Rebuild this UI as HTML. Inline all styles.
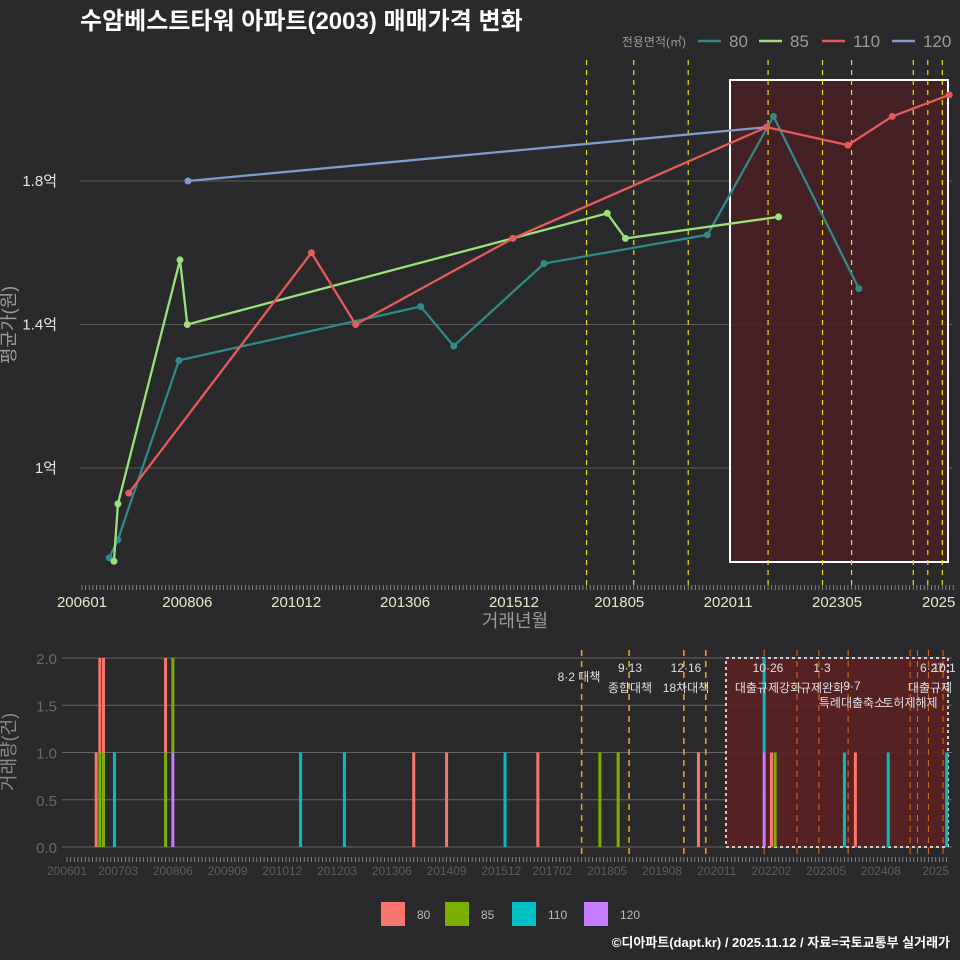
<!DOCTYPE html>
<html><head><meta charset="utf-8">
<style>
html,body{margin:0;padding:0;background:#2a292b;}
svg{display:block;font-family:"Liberation Sans","Noto Sans CJK KR",sans-serif;}
</style></head>
<body>
<svg id="c" width="960" height="960" viewBox="0 0 960 960">
<rect x="0" y="0" width="960" height="960" fill="#2a292b"/>
<text x="80" y="29" font-size="24" font-weight="bold" fill="#ffffff">수암베스트타워 아파트(2003) 매매가격 변화</text>
<g id="top"></g>
<g id="bot"></g>
<text x="950" y="947" font-size="13" font-weight="bold" fill="#ffffff" text-anchor="end">©디아파트(dapt.kr) / 2025.11.12 / 자료=국토교통부 실거래가</text>
</svg>
<script>
// ---- data ----
const seriesNames = ["80","85","110","120"];
const lineColors = ["#2f8a88","#9be07a","#e55a5a","#7f9ccb"];
const barColors = ["#f8766d","#7cae00","#00bfc4","#c77cff"];
// price points: months since 2006-01, value in 억
const s80Months = [7.5,9.9,26.7,93.3,102.4,127.3,172.3,190.5,214];
const s80Values = [0.75,0.80,1.30,1.45,1.34,1.57,1.65,1.98,1.50];
const s85Months = [8.8,9.9,27,29,144.7,149.7,191.9];
const s85Values = [0.74,0.90,1.58,1.40,1.71,1.64,1.70];
const s110Months = [12.9,63.2,75.4,118.7,188.6,211,223.2,238.9];
const s110Values = [0.93,1.60,1.40,1.64,1.95,1.90,1.98,2.04];
const s120Months = [29.2,188.6];
const s120Values = [1.80,1.95];
const topTickLabels = ["200601","200806","201012","201306","201512","201805","202011","202305","2025"];
const topTickMonths = [0,29,59,89,119,148,178,208,236];
const yTicks = [1.0,1.4,1.8];
const yTickLabels = ["1억","1.4억","1.8억"];
const policyMonthsTop = [139,152,167,189,204,212,229,233,237];
// volume bars: month, series index, count
const barMonths = [8,9,9,10,10,13,27,27,29,29,64,76,95,104,120,129,146,151,173,191,191,193,194,213,216,225,241];
const barSeries = [0,1,0,1,0,2,1,0,3,1,2,2,0,0,2,0,1,1,0,3,2,0,1,2,0,2,2];
const barCounts = [1,1,1,1,1,1,1,1,1,1,1,1,1,1,1,1,1,1,1,1,1,1,1,1,1,1,1];
const botTickLabels = ["200601","200703","200806","200909","201012","201203","201306","201409","201512","201702","201805","201908","202011","202202","202305","202408","2025"];
const botTickMonths = [0,14,29,44,59,74,89,104,119,133,148,163,178,193,208,223,238];
const volTicks = [0,0.5,1,1.5,2];
const volTickLabels = ["0.0","0.5","1.0","1.5","2.0"];
const policyMonthsBot = [141,154,169,175,191,200,206,214,231,233,236,240];
const policyLabels = [["8·2 대책",579,681],["9·13",630,672],["종합대책",630,692],["12·16",686,672],["18차대책",686,692],["10·26",768,672],["대출규제강화",768,692],["1·3",822,672],["규제완화",822,692],["9·7",852,690],["특례대출축소",852,707],["토허제해제",910,707],["6·27",932,672],["10.1",944,672],["대출규제",930,692]];

const NS="http://www.w3.org/2000/svg";
function mk(p,tag,at){const e=document.createElementNS(NS,tag);for(const k in at)e.setAttribute(k,at[k]);p.appendChild(e);return e;}
const topG=document.getElementById('top'), botG=document.getElementById('bot');

// ---- top axes ----
const xT=m=>82+3.63*m;
const yT=v=>468-(v-1)*358.75;
yTicks.forEach((v,i)=>{
  const g=mk(topG,'line',{x1:80,x2:952,y1:yT(v),y2:yT(v),stroke:'#5a5a5a','stroke-width':1});
  
  const t=mk(topG,'text',{x:57,y:yT(v)+5,'font-size':15,fill:'#e8e8d8','text-anchor':'end'});
  t.textContent=yTickLabels[i];
  
});
const hr=mk(topG,'rect',{x:730,y:80,width:218,height:482,fill:'#4a1f24','fill-opacity':0.85,stroke:'#ffffff','stroke-width':2});

policyMonthsTop.forEach(m=>{
  const l=mk(topG,'line',{x1:xT(m),x2:xT(m),y1:60,y2:590,stroke:'#e6e020','stroke-width':1.2,'stroke-dasharray':'5,5'});
  
});
for(let m=0;m<=240;m++){
  const l=mk(topG,'line',{x1:xT(m),x2:xT(m),y1:585,y2:590,stroke:'#999','stroke-width':0.8});
  
}
topTickLabels.forEach((s,i)=>{
  const t=mk(topG,'text',{x:xT(topTickMonths[i]),y:607,'font-size':15,fill:'#e8e8d0','text-anchor':'middle'});
  t.textContent=s;
});
let t=mk(topG,'text',{x:515,y:627,'font-size':18,fill:'#9a9a9a','text-anchor':'middle'});t.textContent='거래년월';

t=mk(topG,'text',{x:0,y:0,'font-size':18,fill:'#9a9a9a','text-anchor':'middle',transform:'translate(15,325) rotate(-90)'});t.textContent='평균가(원)';

const sm=[s80Months,s85Months,s110Months,s120Months], sv=[s80Values,s85Values,s110Values,s120Values];
[3,0,1,2].forEach(si=>{
  const pts=sm[si].map((m,i)=>xT(m)+','+yT(sv[si][i])).join(' ');
  const pl=mk(topG,'polyline',{points:pts,fill:'none',stroke:lineColors[si],'stroke-width':2.3});
  
  sm[si].forEach((m,i)=>{
    const c=mk(topG,'circle',{cx:xT(m),cy:yT(sv[si][i]),r:3.5,fill:lineColors[si]});
    
  });
});
t=mk(topG,'text',{x:686,y:46,'font-size':12,fill:'#9a9a9a','text-anchor':'end'});t.textContent='전용면적(㎡)';

const legX=[693,754,817,887];
seriesNames.forEach((s,i)=>{
  const l=mk(topG,'line',{x1:legX[i]+5,x2:legX[i]+28,y1:41,y2:41,stroke:lineColors[i],'stroke-width':2.5});
  
  const tx=mk(topG,'text',{x:legX[i]+36,y:47,'font-size':17,fill:'#9a9a9a'});tx.textContent=s;
  
});

// ---- bottom ----
const xB=m=>67+3.65*m;
const yB=v=>847-v*94.5;
volTicks.forEach((v,i)=>{
  const g=mk(botG,'line',{x1:62,x2:952,y1:yB(v),y2:yB(v),stroke:'#666','stroke-width':1});
  
  const tx=mk(botG,'text',{x:57,y:yB(v)+6,'font-size':15,fill:'#6a6a6a','text-anchor':'end'});tx.textContent=volTickLabels[i];
  
});
const br=mk(botG,'rect',{x:726,y:658,width:222,height:189,fill:'#5a2022','fill-opacity':0.9,stroke:'#cccccc','stroke-width':2,'stroke-dasharray':'3,3'});

policyMonthsBot.forEach((m,i)=>{
  const inside=xB(m)>726;
  const l=mk(botG,'line',{x1:xB(m),x2:xB(m),y1:650,y2:858,stroke:inside?'#e0701a':'#e8a020','stroke-width':inside?1:1.6,'stroke-dasharray':'6,5'});
  
});
const stackBase={};
const order=[3,2,1,0];
const idx=barMonths.map((m,i)=>i).sort((a,b)=>order.indexOf(barSeries[a])-order.indexOf(barSeries[b]));
idx.forEach(i=>{
  const m=barMonths[i],b=stackBase[m]||0,c=barCounts[i];
  const r=mk(botG,'rect',{x:xB(m)-1.5,y:yB(b+c),width:3,height:yB(b)-yB(b+c),fill:barColors[barSeries[i]]});
  
  stackBase[m]=b+c;
});
policyLabels.forEach(p=>{
  const tx=mk(botG,'text',{x:p[1],y:p[2],'font-size':12,fill:'#e0e0e0','text-anchor':'middle'});tx.textContent=p[0];
  
});
for(let m=0;m<=241;m++){
  const l=mk(botG,'line',{x1:xB(m),x2:xB(m),y1:857,y2:862,stroke:'#999','stroke-width':0.8});
  
}
botTickLabels.forEach((s,i)=>{
  const tx=mk(botG,'text',{x:xB(botTickMonths[i]),y:875,'font-size':12,fill:'#5e5e5e','text-anchor':'middle'});tx.textContent=s;
  
});
t=mk(botG,'text',{x:0,y:0,'font-size':18,fill:'#8a8a8a','text-anchor':'middle',transform:'translate(15,752) rotate(-90)'});t.textContent='거래량(건)';

const lgX=[381,445,512,584];
seriesNames.forEach((s,i)=>{
  const r=mk(botG,'rect',{x:lgX[i],y:902,width:24,height:24,fill:barColors[i]});
  
  const tx=mk(botG,'text',{x:lgX[i]+36,y:919,'font-size':12,fill:'#bbbbbb'});tx.textContent=s;
  
});
</script>
</body></html>
